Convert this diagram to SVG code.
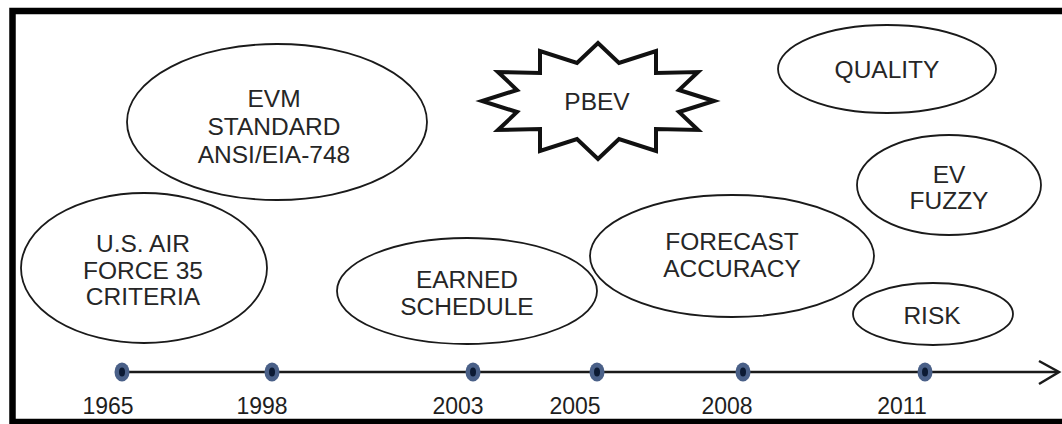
<svg xmlns="http://www.w3.org/2000/svg" width="1062" height="424" viewBox="0 0 1062 424">
  <style>
    .bubble { fill: #ffffff; stroke: #1a1a1a; stroke-width: 1.8; }
    .star { fill: #ffffff; stroke: #111111; stroke-width: 4; stroke-linejoin: miter; }
    .label { font-family: "Liberation Sans", Arial, sans-serif; font-size: 24.5px; fill: #262626; text-anchor: middle; }
    .year { font-family: "Liberation Sans", Arial, sans-serif; font-size: 23px; fill: #1e1e1e; text-anchor: middle; }
    .axis { stroke: #1a1a1a; stroke-width: 2.5; fill: none; }
    .dot-outer { fill: #4a6088; }
    .dot-inner { fill: #0c1a33; }
  </style>
  <defs>
    <g id="milestone">
      <ellipse class="dot-outer" cx="0" cy="0" rx="7.5" ry="9.5"/>
      <ellipse class="dot-inner" cx="0" cy="0" rx="3" ry="4.5"/>
    </g>
  </defs>

  <rect x="0" y="0" width="1062" height="424" fill="#ffffff"/>
  <!-- frame: open on the right -->
  <rect x="12.5" y="11" width="1100" height="411" fill="none" stroke="#000000" stroke-width="6.5"/>

  <!-- timeline axis -->
  <g id="connectors">
    <line class="axis" x1="122" y1="372" x2="1058" y2="372"/>
    <polyline class="axis" points="1039,361 1059,372 1039,384" stroke-width="2.8"/>
  </g>

  <!-- milestones -->
  <g id="milestones">
    <use href="#milestone" x="122" y="372"/>
    <use href="#milestone" x="272" y="372"/>
    <use href="#milestone" x="473" y="372"/>
    <use href="#milestone" x="597" y="372"/>
    <use href="#milestone" x="743" y="372"/>
    <use href="#milestone" x="925" y="372"/>
  </g>

  <g id="years">
    <text class="year" x="108" y="414">1965</text>
    <text class="year" x="262" y="414">1998</text>
    <text class="year" x="458" y="414">2003</text>
    <text class="year" x="575" y="414">2005</text>
    <text class="year" x="727" y="414">2008</text>
    <text class="year" x="902" y="414">2011</text>
  </g>

  <g id="node-evm">
    <ellipse class="bubble" cx="277" cy="122" rx="150" ry="78"/>
    <text class="label" x="274" y="107">EVM</text>
    <text class="label" x="274" y="135">STANDARD</text>
    <text class="label" x="274" y="163">ANSI/EIA-748</text>
  </g>

  <g id="node-airforce">
    <ellipse class="bubble" cx="144" cy="268" rx="123" ry="75"/>
    <text class="label" x="143" y="252">U.S. AIR</text>
    <text class="label" x="143" y="279">FORCE 35</text>
    <text class="label" x="143" y="305">CRITERIA</text>
  </g>

  <g id="node-pbev">
    <polygon class="star" points="714,101 679,90 698,72 656,73 656,51 619,63 598,43 577,63 540,51 540,73 498,72 517,90 482,101 517,112 498,130 540,129 540,151 577,139 598,159 619,139 656,151 656,129 698,130 679,112"/>
    <text class="label" x="597" y="110">PBEV</text>
  </g>

  <g id="node-earned-schedule">
    <ellipse class="bubble" cx="467" cy="291" rx="130" ry="53"/>
    <text class="label" x="467" y="288">EARNED</text>
    <text class="label" x="467" y="315">SCHEDULE</text>
  </g>

  <g id="node-forecast">
    <ellipse class="bubble" cx="732" cy="256" rx="142" ry="61"/>
    <text class="label" x="732" y="250">FORECAST</text>
    <text class="label" x="732" y="277">ACCURACY</text>
  </g>

  <g id="node-quality">
    <ellipse class="bubble" cx="887" cy="69" rx="109" ry="44"/>
    <text class="label" x="887" y="78">QUALITY</text>
  </g>

  <g id="node-evfuzzy">
    <ellipse class="bubble" cx="949" cy="185" rx="92" ry="50"/>
    <text class="label" x="949" y="183">EV</text>
    <text class="label" x="949" y="209">FUZZY</text>
  </g>

  <g id="node-risk">
    <ellipse class="bubble" cx="933" cy="314" rx="80" ry="31"/>
    <text class="label" x="932" y="324">RISK</text>
  </g>
</svg>
